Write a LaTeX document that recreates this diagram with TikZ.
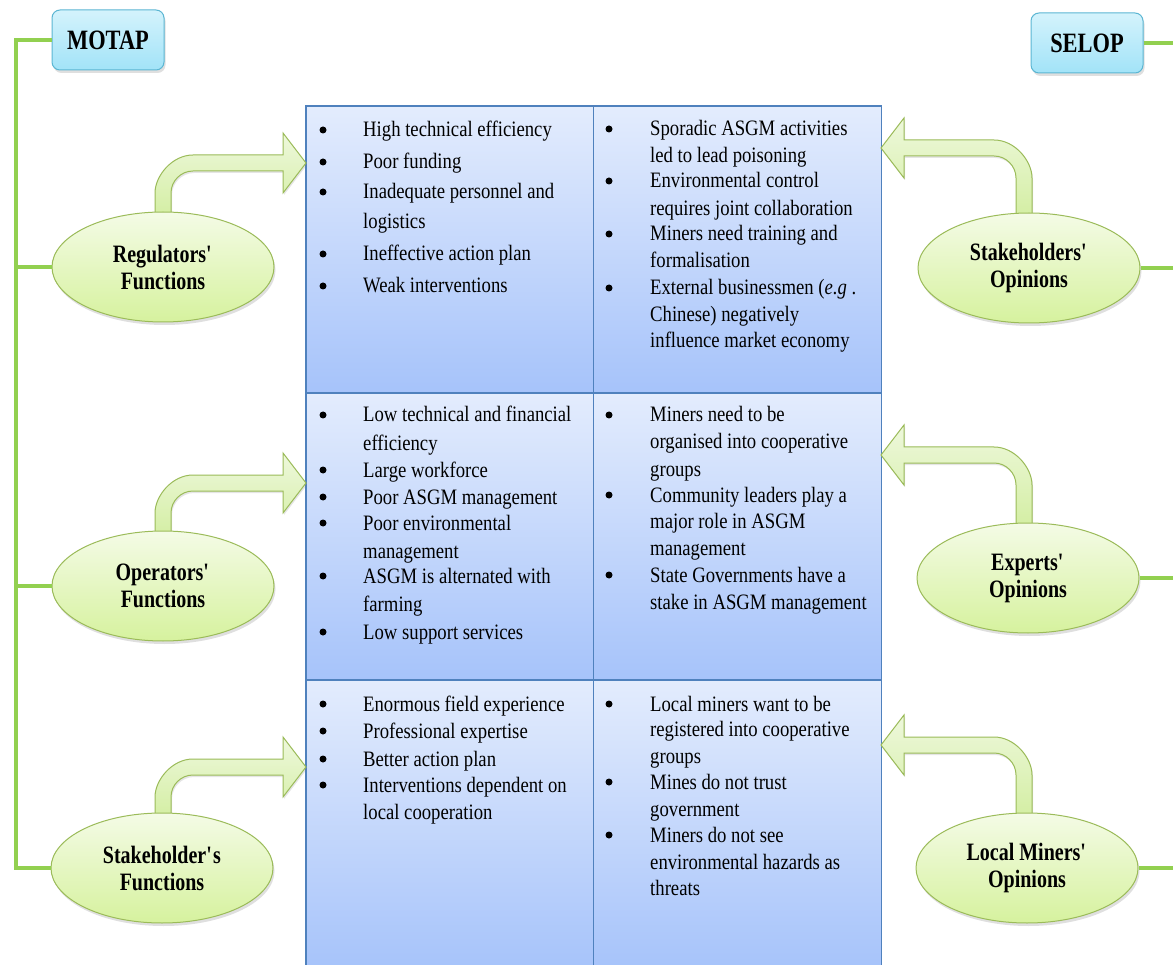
\documentclass[tikz,border=0pt]{standalone}
\usepackage{fontspec}
\setmainfont{Liberation Serif}[FakeStretch=0.85]
\newfontfamily\lblfont{Liberation Serif}[FakeStretch=0.8]
\usetikzlibrary{shapes.geometric,shadows}
\definecolor{gline}{HTML}{92D050}
\definecolor{ellborder}{HTML}{9BBB59}
\definecolor{elltop}{HTML}{F4FBE6}
\definecolor{ellbot}{HTML}{D6F29E}
\definecolor{arrtop}{HTML}{EEF8DC}
\definecolor{arrbot}{HTML}{D3EEA2}
\definecolor{boxtop}{HTML}{D4F3FC}
\definecolor{boxbot}{HTML}{A2E3F8}
\definecolor{boxborder}{HTML}{5BB6D3}
\definecolor{celltop}{HTML}{E3ECFD}
\definecolor{cellbot}{HTML}{A6C3FA}
\definecolor{cellborder}{HTML}{4F81BD}
\tikzset{
  gconn/.style={draw=gline, line width=4pt},
  softshadow/.style={drop shadow={opacity=0.25, shadow xshift=1.5pt, shadow yshift=-3pt}},
  ellnode/.style={ellipse, draw=ellborder, line width=1pt, top color=elltop, bottom color=ellbot,
    minimum width=222pt, minimum height=110pt, inner sep=0pt, align=center,
    font=\lblfont\bfseries\fontsize{25}{27}\selectfont, softshadow},
  titlebox/.style={rectangle, rounded corners=8pt, draw=boxborder, line width=1pt, top color=boxtop,
    bottom color=boxbot, minimum width=112pt, minimum height=60pt, inner sep=0pt,
    font=\lblfont\bfseries\fontsize{28}{30}\selectfont, softshadow},
  cellbox/.style={rectangle, draw=cellborder, line width=1.3pt, top color=celltop, bottom color=cellbot,
    inner sep=0pt, minimum width=288pt},
  bentarrow/.style={draw=ellborder, line width=1pt, top color=arrtop, bottom color=arrbot,
    drop shadow={opacity=0.2, shadow xshift=1pt, shadow yshift=-2pt}},
  itemtext/.style={anchor=base west, inner sep=0pt, font=\fontsize{22}{27}\selectfont},
  bulletmark/.style={circle, fill=black, inner sep=0pt, minimum size=7pt},
}
% right-pointing bent arrow: #1 shaft left x, #2 centre y of horizontal part, #3 bottom y, #4 tip x
\newcommand\rightbent[4]{%
  \path[bentarrow] (#1,#3) -- (#1,{#2+30}) .. controls (#1,{#2+13}) and ({#1+17},{#2-8}) .. ({#1+38},{#2-8})
    -- ({#4-23},{#2-8}) -- ({#4-23},{#2-30}) -- (#4,#2) -- ({#4-23},{#2+30}) -- ({#4-23},{#2+8})
    -- ({#1+38},{#2+8}) .. controls ({#1+26},{#2+8}) and ({#1+16},{#2+18}) .. ({#1+16},{#2+30})
    -- ({#1+16},#3) -- cycle;}
% left-pointing bent arrow: #1 shaft right x, #2 centre y, #3 bottom y, #4 tip x
\newcommand\leftbent[4]{%
  \path[bentarrow] (#1,#3) -- (#1,{#2+30}) .. controls (#1,{#2+13}) and ({#1-17},{#2-8}) .. ({#1-38},{#2-8})
    -- ({#4+23},{#2-8}) -- ({#4+23},{#2-30}) -- (#4,#2) -- ({#4+23},{#2+30}) -- ({#4+23},{#2+8})
    -- ({#1-38},{#2+8}) .. controls ({#1-26},{#2+8}) and ({#1-16},{#2+18}) .. ({#1-16},{#2+30})
    -- ({#1-16},#3) -- cycle;}
\begin{document}
\begin{tikzpicture}[x=1pt,y=-1pt]
\useasboundingbox (0,0) rectangle (1173,965);
\clip (0,0) rectangle (1173,965);
\fill[white] (0,0) rectangle (1173,965);

% table cells
\node[cellbox, minimum height=287pt] (c11) at (450,249.5) {};
\node[cellbox, minimum height=287pt] (c12) at (737.5,249.5) {};
\node[cellbox, minimum height=287pt] (c21) at (450,536.5) {};
\node[cellbox, minimum height=287pt] (c22) at (737.5,536.5) {};
\node[cellbox, minimum height=290pt] (c31) at (450,825) {};
\node[cellbox, minimum height=290pt] (c32) at (737.5,825) {};

% bent arrows
\rightbent{155}{163}{218}{306}
\rightbent{155}{483}{538}{306}
\rightbent{155}{767}{819}{306}
\leftbent{1032}{148}{219}{881}
\leftbent{1032}{455}{529}{881}
\leftbent{1032}{745}{819}{881}

% title boxes
\node[titlebox] (motap) at (108,40) {MOTAP};
\node[titlebox] (selop) at (1087,43) {SELOP};

% ellipses
\node[ellnode] (reg) at (163,267) {Regulators\textquotesingle\\Functions};
\node[ellnode] (ops) at (163,586) {Operators\textquotesingle\\Functions};
\node[ellnode] (sfun) at (162,868) {Stakeholder\textquotesingle s\\Functions};
\node[ellnode] (stop) at (1029,268) {Stakeholders\textquotesingle\\Opinions};
\node[ellnode] (exp) at (1028,578) {Experts\textquotesingle\\Opinions};
\node[ellnode] (lm) at (1027,868) {Local Miners\textquotesingle\\Opinions};

% connectors
\coordinate (L0) at (16,40);
\coordinate (R0) at (1182,43);
\draw[gconn] (motap.west) -- (L0) |- (sfun.west);
\draw[gconn] (L0 |- reg.west) -- (reg.west);
\draw[gconn] (L0 |- ops.west) -- (ops.west);
\draw[gconn] (selop.east) -- (R0) |- (lm.east);
\draw[gconn] (R0 |- stop.east) -- (stop.east);
\draw[gconn] (R0 |- exp.east) -- (exp.east);

% row 1
\foreach \yy/\txt [count=\i] in {137/High technical efficiency, 169/Poor funding, 199/Inadequate personnel and, 229/logistics, 261/Ineffective action plan, 293/Weak interventions}
  \node[itemtext] (ta-\i) at (363,\yy) {\txt};
\foreach \yy [count=\i] in {137,169,199,261,293}
  \node[bulletmark] (ba-\i) at (323,\yy-7) {};
\foreach \yy/\txt [count=\i] in {136/Sporadic ASGM activities, 163/led to lead poisoning, 188/Environmental control, 216/requires joint collaboration, 241/Miners need training and, 268/formalisation, 295/External businessmen (\textit{e.g}\ ., 322/Chinese) negatively, 348/influence market economy}
  \node[itemtext] (tb-\i) at (650,\yy) {\txt};
\foreach \yy [count=\i] in {136,188,241,295}
  \node[bulletmark] (bb-\i) at (609,\yy-7) {};

% row 2
\foreach \yy/\txt [count=\i] in {422/Low technical and financial, 450/efficiency, 477/Large workforce, 504/Poor ASGM management, 530/Poor environmental, 558/management, 583/ASGM is alternated with, 611/farming, 639/Low support services}
  \node[itemtext] (tc-\i) at (363,\yy) {\txt};
\foreach \yy [count=\i] in {422,477,504,530,583,639}
  \node[bulletmark] (bc-\i) at (323,\yy-7) {};
\foreach \yy/\txt [count=\i] in {422/Miners need to be, 449/organised into cooperative, 476/groups, 502/Community leaders play a, 528/major role in ASGM, 555/management, 582/State Governments have a, 609/stake in ASGM management}
  \node[itemtext] (td-\i) at (650,\yy) {\txt};
\foreach \yy [count=\i] in {422,502,582}
  \node[bulletmark] (bd-\i) at (609,\yy-7) {};

% row 3
\foreach \yy/\txt [count=\i] in {711/Enormous field experience, 738/Professional expertise, 766/Better action plan, 792/Interventions dependent  on, 819/local cooperation}
  \node[itemtext] (te-\i) at (363,\yy) {\txt};
\foreach \yy [count=\i] in {711,738,766,792}
  \node[bulletmark] (be-\i) at (323,\yy-7) {};
\foreach \yy/\txt [count=\i] in {711/Local miners want to be, 736/registered into cooperative, 763/groups, 789/Mines do not trust, 816/government, 842/Miners do not see, 869/environmental hazards as, 895/threats}
  \node[itemtext] (tf-\i) at (650,\yy) {\txt};
\foreach \yy [count=\i] in {711,789,842}
  \node[bulletmark] (bf-\i) at (609,\yy-7) {};
\end{tikzpicture}
\end{document}
